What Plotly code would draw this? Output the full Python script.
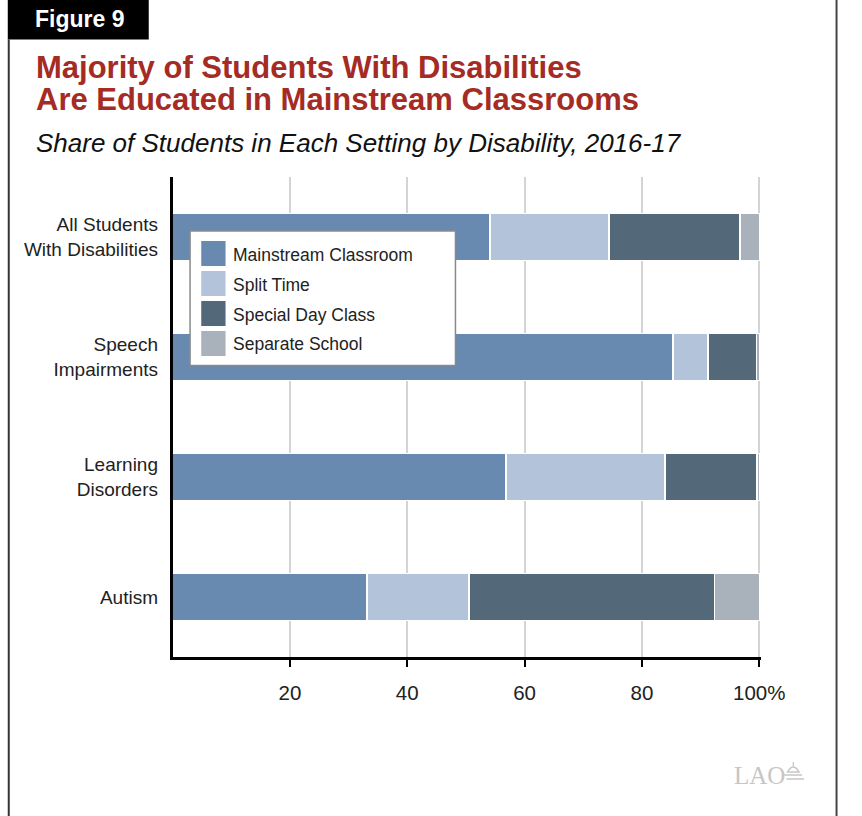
import plotly.graph_objects as go

W, H = 862, 816

categories = ["All Students<br>With Disabilities", "Speech<br>Impairments",
              "Learning<br>Disorders", "Autism"]
series_names = ["Mainstream Classroom", "Split Time", "Special Day Class", "Separate School"]
mainstream = [54.1, 85.3, 56.8, 33.1]
split_time = [20.3, 6.0, 27.1, 17.4]
special_day = [22.3, 8.2, 15.7, 41.9]
separate_school = [3.3, 0.5, 0.4, 7.6]
series_values = [mainstream, split_time, special_day, separate_school]
colors = ["#6889B0", "#B3C4DA", "#536878", "#A9B2BA"]
tick_vals = [20, 40, 60, 80, 100]
tick_text = ["20", "40", "60", "80", "100%"]

title_line1 = "Majority of Students With Disabilities"
title_line2 = "Are Educated in Mainstream Classrooms"
subtitle = "Share of Students in Each Setting by Disability, 2016-17"

FONT = "Liberation Sans, Arial, Helvetica, sans-serif"


def px(x):
    return x / W


def py(y):
    return 1 - y / H


fig = go.Figure()
for name, vals, col in zip(series_names, series_values, colors):
    fig.add_trace(go.Bar(
        y=categories, x=vals, name=name, orientation="h",
        marker=dict(color=col, line=dict(color="white", width=1.5)),
        width=0.39, showlegend=False, hoverinfo="x+name",
    ))

x0_px, x100_px = 177.5, 781.0
xmax = 100.3
xend_px = x0_px + (x100_px - x0_px) * xmax / 100

shapes = []
annotations = []

# Figure label box
shapes.append(dict(type="rect", xref="paper", yref="paper",
                   x0=px(8), x1=px(153), y0=py(39.5), y1=py(0) + 0.01,
                   fillcolor="black", line=dict(width=0), layer="above"))
annotations.append(dict(text="<b>Figure 9</b>", x=px(34), y=py(19), xref="paper", yref="paper",
                        xanchor="left", yanchor="middle", showarrow=False,
                        font=dict(family=FONT, size=23, color="white")))
# frame lines
shapes.append(dict(type="line", xref="paper", yref="paper",
                   x0=px(9), x1=px(9), y0=py(39.5), y1=py(817),
                   line=dict(color="#333333", width=2)))
shapes.append(dict(type="line", xref="paper", yref="paper",
                   x0=px(860.5), x1=px(860.5), y0=py(-1), y1=py(817),
                   line=dict(color="#444444", width=2)))

# titles
annotations.append(dict(text="<b>" + title_line1 + "</b>", x=px(35), y=py(67), xref="paper", yref="paper",
                        xanchor="left", yanchor="middle", showarrow=False,
                        font=dict(family=FONT, size=31, color="#A52B25")))
annotations.append(dict(text="<b>" + title_line2 + "</b>", x=px(35), y=py(99), xref="paper", yref="paper",
                        xanchor="left", yanchor="middle", showarrow=False,
                        font=dict(family=FONT, size=31, color="#A52B25")))
annotations.append(dict(text="<i>" + subtitle + "</i>", x=px(35), y=py(143), xref="paper", yref="paper",
                        xanchor="left", yanchor="middle", showarrow=False,
                        font=dict(family=FONT, size=26, color="#111111")))

# legend (box + swatches + labels)
shapes.append(dict(type="rect", xref="paper", yref="paper",
                   x0=px(195.5), x1=px(468.5), y0=py(365.5), y1=py(231),
                   fillcolor="white", line=dict(color="#8a8a8a", width=1.5), layer="above"))
for i, (name, col) in enumerate(zip(series_names, colors)):
    cy = 253.5 + 30 * i
    shapes.append(dict(type="rect", xref="paper", yref="paper",
                       x0=px(207), x1=px(232), y0=py(cy + 12.5), y1=py(cy - 12.5),
                       fillcolor=col, line=dict(width=0), layer="above"))
    annotations.append(dict(text=name, x=px(238), y=py(cy + 1), xref="paper", yref="paper",
                            xanchor="left", yanchor="middle", showarrow=False,
                            font=dict(family=FONT, size=17.5, color="#222222")))

# LAO mark (text + small dome glyph)
annotations.append(dict(text="LAO", x=px(753), y=py(775), xref="paper", yref="paper",
                        xanchor="left", yanchor="middle", showarrow=False,
                        font=dict(family="Liberation Serif, serif", size=25, color="#c6c6c6")))
dome = (f"M {px(810)} {py(772)} Q {px(816)} {py(762)} {px(822)} {py(772)} Z "
        f"M {px(806)} {py(775)} L {px(825)} {py(775)} "
        f"M {px(809)} {py(779)} L {px(827)} {py(779)} "
        f"M {px(816)} {py(766)} L {px(816)} {py(762)}")
shapes.append(dict(type="path", xref="paper", yref="paper", path=dome,
                   line=dict(color="#c6c6c6", width=1.3), fillcolor="rgba(0,0,0,0)"))

fig.update_layout(
    width=W, height=H, autosize=False, margin=dict(l=0, r=0, t=0, b=0, pad=0),
    paper_bgcolor="white", plot_bgcolor="white",
    barmode="stack", bargap=0.6,
    shapes=shapes, annotations=annotations,
    xaxis=dict(domain=[px(x0_px), px(xend_px)], range=[0, xmax],
               tickvals=tick_vals, ticktext=tick_text,
               showgrid=True, gridcolor="#d4d4d4", gridwidth=1.5,
               showline=True, linecolor="black", linewidth=2.5,
               ticks="outside", ticklen=7, tickwidth=2, tickcolor="black",
               ticklabelstandoff=9,
               tickfont=dict(family=FONT, size=20.5, color="#222222"),
               zeroline=False, fixedrange=True),
    yaxis=dict(domain=[py(657), py(177)], range=[3.5, -0.5],
               type="category", categoryorder="array", categoryarray=categories,
               showgrid=False, showline=True, linecolor="black", linewidth=2.5,
               ticks="", ticklabelstandoff=8,
               tickfont=dict(family=FONT, size=19, color="#222222"),
               zeroline=False, fixedrange=True),
)

page_fix = ("document.documentElement.style.overflow='hidden';"
            "document.body.style.margin='0';document.body.style.overflow='hidden';")
fig.write_html("out.html", config={"responsive": False, "displayModeBar": False},
               post_script=page_fix)
